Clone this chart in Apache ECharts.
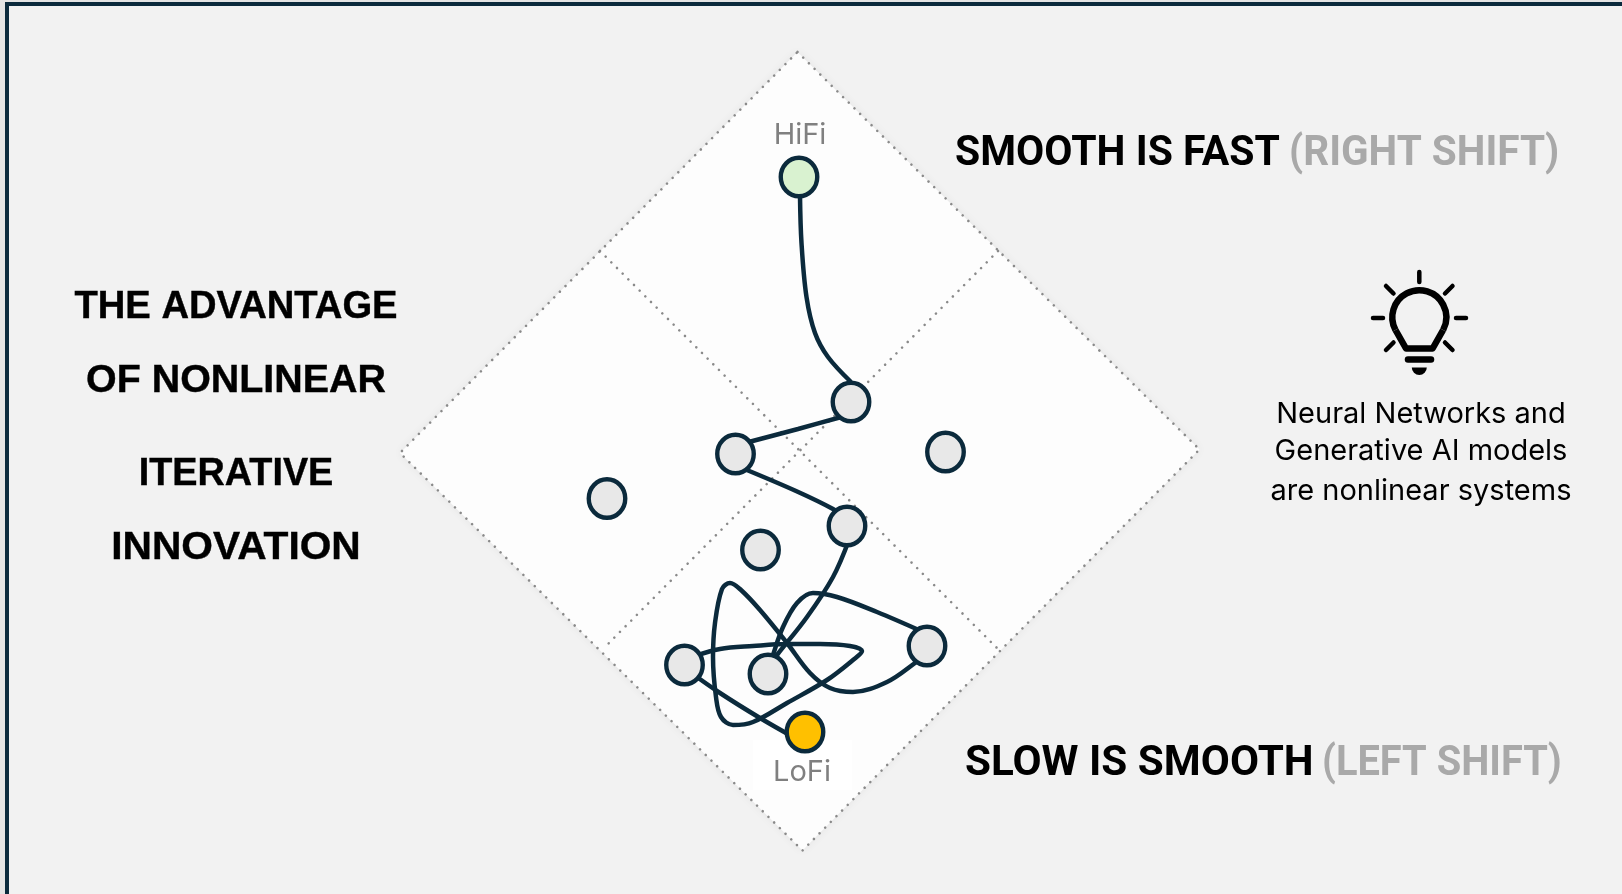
<!DOCTYPE html>
<html>
<head>
<meta charset="utf-8">
<title>Nonlinear iterative innovation</title>
<script src="https://cdn.jsdelivr.net/npm/echarts@6/dist/echarts.min.js"></script>
<style>
    html, body { margin: 0; padding: 0; background: #f2f2f2; }
    #chart { width: 1622px; height: 894px; }
</style>
</head>
<body>
<div id="chart"></div>
<script>
    // everything, in reference pixels
    const diamond = [[797.5, 52], [1199.5, 449.5], [802.5, 850.5], [400, 453]]
    const crossA = [[600, 251], [998, 649]]
    const crossB = [[998, 251], [605, 647]]

    const nodeHiFi = [[799, 177]]
    const nodeLoFi = [[805, 732]]
    const nodesPlain = [
        [851, 402], [735.5, 454], [847, 526], [607, 498.5], [760.5, 550],
        [945.5, 452], [684.5, 665], [768, 674], [927, 646]
    ]

    const edgeHiFi = [[800, 196], [801.5, 243], [806.5, 297], [815, 333], [828, 357], [851, 382]]
    const edgeUpper = [[845, 416], [798, 429], [745, 443]]
    const edgeMiddle = [[742, 468], [796, 491], [833, 509], [842, 516]]
    const edgeDown = [[849, 540], [833, 577], [807, 617], [777, 655], [772, 662]]
    const edgeArc = [[770, 665], [773, 655], [783, 627], [797, 603], [813, 593], [837, 597], [877, 612], [921, 631]]
    const edgeLoop = [
        [920, 658], [915, 663], [887, 682], [853, 692], [830, 688], [810, 673], [787, 643], [760, 610],
        [741, 590], [730, 583], [722, 589], [715, 623], [713, 657], [716, 697], [721, 717], [733, 725],
        [753, 722], [787, 703], [827, 680], [853, 660], [862, 651], [850, 646], [820, 644], [787, 644],
        [753, 646], [720, 649], [695, 656]
    ]
    const edgeLoFi = [[690, 672], [720, 693], [760, 718], [795, 738]]
    const edges = [edgeHiFi, edgeUpper, edgeMiddle, edgeDown, edgeArc, edgeLoop, edgeLoFi]

    const leftTitle = ['THE ADVANTAGE', 'OF NONLINEAR', 'ITERATIVE', 'INNOVATION']
    const rightTop = ['SMOOTH IS FAST', '(RIGHT SHIFT)']
    const rightBottom = ['SLOW IS SMOOTH', '(LEFT SHIFT)']
    const note = ['Neural Networks and', 'Generative AI models', 'are nonlinear systems']

    const NAVY = '#0b2a3c'
    const chart = echarts.init(document.getElementById('chart'))

    function dotted(data) {
        return {
            type: 'line', data, z: 3, silent: true, symbol: 'none',
            lineStyle: {color: '#8a8a8a', width: 2.6, type: [0.01, 8], cap: 'round'}
        }
    }

    function nodes(data, fill) {
        return {
            type: 'scatter', data, z: 5, silent: true, symbolSize: [36.5, 38.5],
            itemStyle: {color: fill, borderColor: NAVY, borderWidth: 4.5, opacity: 1}
        }
    }

    function bigText(text, x, y, fill, scaleX) {
        return {
            type: 'text', z: 6, x, y, scaleX, silent: true,
            style: {text, fill, font: 'bold 42px Roboto', textAlign: 'left', textVerticalAlign: 'middle'}
        }
    }

    function ray(x1, y1, x2, y2, width) {
        return {
            type: 'line', z: 6, silent: true,
            shape: {x1, y1, x2, y2},
            style: {stroke: '#000', lineWidth: width || 4.5, lineCap: 'round'}
        }
    }

    const elements = [
        // page edge and dark frame
        {type: 'rect', z: 0, shape: {x: 0, y: 0, width: 5, height: 894}, style: {fill: '#e4e4e4'}},
        {type: 'rect', z: 0, shape: {x: 0, y: 0, width: 1622, height: 2}, style: {fill: '#e4e4e4'}},
        {type: 'rect', z: 0, shape: {x: 5, y: 2, width: 4, height: 892}, style: {fill: NAVY}},
        {type: 'rect', z: 0, shape: {x: 5, y: 2, width: 1617, height: 4}, style: {fill: NAVY}},
        // white patch behind the LoFi label
        {type: 'rect', z: 2, shape: {x: 753, y: 740, width: 99, height: 50}, style: {fill: '#fff'}},

        // bulb
        {type: 'arc', z: 6, silent: true,
            shape: {cx: 1419.3, cy: 317.3, r: 27, startAngle: 152 * Math.PI / 180, endAngle: 28 * Math.PI / 180, clockwise: true},
            style: {stroke: '#000', fill: null, lineWidth: 6.5}},
        {type: 'polyline', z: 6, silent: true,
            shape: {points: [[1395.5, 330], [1406, 348.5], [1432.6, 348.5], [1443.1, 330]]},
            style: {stroke: '#000', fill: null, lineWidth: 6.5, lineJoin: 'round'}},
        ray(1419.3, 272, 1419.3, 282),
        ray(1373, 318, 1383, 318),
        ray(1456, 318, 1466, 318),
        ray(1386, 286, 1393.5, 293.5),
        ray(1452.5, 286, 1445, 293.5),
        ray(1386, 350, 1393.5, 342.5),
        ray(1452.5, 350, 1445, 342.5),
        ray(1408, 359.5, 1431, 359.5, 6.5),
        {type: 'sector', z: 6, silent: true,
            shape: {cx: 1419.3, cy: 367.5, r0: 0, r: 7.5, startAngle: 0, endAngle: Math.PI, clockwise: true},
            style: {fill: '#000'}},

        // texts, squeezed a little per line to the reference widths
        bigText(rightTop[0], 955, 154.5, '#000', 0.975),
        bigText(rightTop[1], 1289, 154.5, '#a9a9a9', 0.965),
        bigText(rightBottom[0], 965, 764.5, '#000', 1.005),
        bigText(rightBottom[1], 1322, 764.5, '#a9a9a9', 0.948),
        {type: 'text', z: 6, x: 800, y: 135, silent: true,
            style: {text: 'HiFi', fill: '#808080', font: '29px Inter', textAlign: 'center', textVerticalAlign: 'middle'}},
        {type: 'text', z: 6, x: 802, y: 772, silent: true,
            style: {text: 'LoFi', fill: '#808080', font: '29px Inter', textAlign: 'center', textVerticalAlign: 'middle'}}
    ]
    const leftY = [307.5, 381.5, 474.5, 548.5]
    const leftScale = [1, 1.032, 0.99, 1.066]
    leftTitle.forEach((text, i) => {
        elements.push({type: 'text', z: 6, x: 236, y: leftY[i], scaleX: leftScale[i], silent: true,
            style: {text, fill: '#000', stroke: '#000', lineWidth: 0.4, font: 'bold 38.2px "Liberation Sans"', textAlign: 'center', textVerticalAlign: 'middle'}})
    })
    const noteY = [414, 451.5, 491.5]
    note.forEach((text, i) => {
        elements.push({type: 'text', z: 6, x: 1421, y: noteY[i], silent: true,
            style: {text, fill: '#000', font: '29px Inter', textAlign: 'center', textVerticalAlign: 'middle'}})
    })

    chart.setOption({
        animation: false,
        backgroundColor: '#f2f2f2',
        grid: {left: 0, right: 0, top: 0, bottom: 0},
        xAxis: {type: 'value', min: 0, max: 1622, show: false},
        yAxis: {type: 'value', min: 0, max: 894, inverse: true, show: false},
        graphic: {elements},
        series: [
            {
                type: 'custom', z: 1, silent: true, data: [0],
                coordinateSystem: 'cartesian2d',
                renderItem(params, api) {
                    return {
                        type: 'polygon',
                        shape: {points: diamond.map(p => api.coord(p))},
                        style: {fill: '#fdfdfd', shadowBlur: 10, shadowColor: 'rgba(0,0,0,0.06)'}
                    }
                }
            },
            dotted(diamond.concat([diamond[0]])),
            dotted(crossA),
            dotted(crossB),
            ...edges.map(data => ({
                type: 'line', data, z: 4, silent: true, symbol: 'none', smooth: 0.35,
                lineStyle: {color: NAVY, width: 4.5}
            })),
            nodes(nodesPlain, '#e8e8e8'),
            nodes(nodeHiFi, '#d9f2d0'),
            nodes(nodeLoFi, '#ffc000')
        ]
    })
</script>
</body>
</html>
